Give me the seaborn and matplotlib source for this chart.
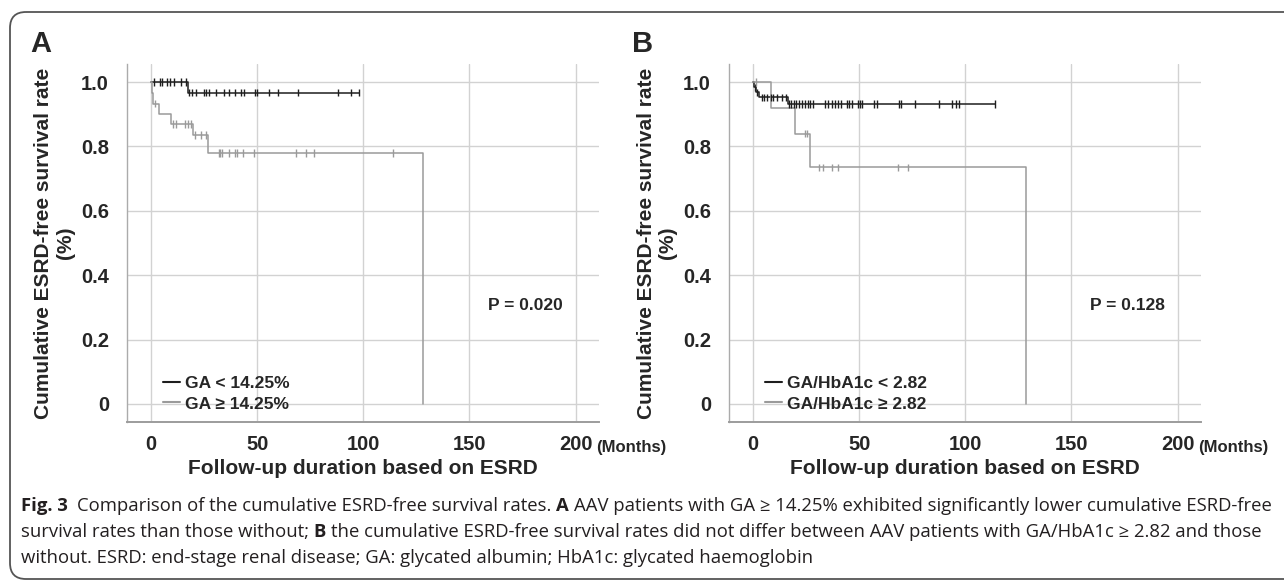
import numpy as np
import pandas as pd
import matplotlib
matplotlib.use("Agg")
import matplotlib.pyplot as plt
import seaborn as sns
from matplotlib.patches import FancyBboxPatch
from matplotlib.lines import Line2D

# ---------------- data ----------------
month_ticks = [0, 50, 100, 150, 200]
rate_ticks = [0, 0.2, 0.4, 0.6, 0.8, 1.0]
rate_labels = ["0", "0.2", "0.4", "0.6", "0.8", "1.0"]

# panel A
a_low_label = "GA < 14.25%"
a_low_event_t = [17.3]
a_low_event_s = [0.967]
a_low_censor = [1.6, 4.2, 5.4, 7.4, 9.0, 11.0, 14.2, 16.6, 17.8, 19.3, 21.2, 25.0,
                26.0, 27.4, 30.8, 34.3, 36.6, 39.5, 42.4, 43.9, 49.1, 50.0, 55.8,
                59.7, 69.3, 88.2, 94.3, 97.8]
a_low_end = 97.8

a_high_label = "GA ≥ 14.25%"
a_high_event_t = [0.3, 1.0, 3.8, 9.2, 20.0, 27.0, 128.2]
a_high_event_s = [0.967, 0.933, 0.900, 0.870, 0.835, 0.780, 0.0]
a_high_censor = [2.0, 10.4, 11.6, 16.2, 17.4, 18.8, 20.9, 23.5, 25.7, 31.8, 32.5,
                 33.3, 36.9, 39.6, 40.4, 43.3, 48.3, 68.3, 73.1, 76.9, 114.0]
a_high_end = 128.2
a_p_text = "P = 0.020"

# panel B
b_low_label = "GA/HbA1c < 2.82"
b_low_event_t = [0.3, 1.4, 3.0, 16.4]
b_low_event_s = [0.984, 0.968, 0.952, 0.932]
b_low_censor = [0.9, 1.9, 4.2, 5.4, 6.7, 8.3, 9.6, 11.2, 13.5, 15.4, 16.8, 17.7,
                19.3, 20.2, 21.6, 23.2, 24.5, 26.1, 27.0, 28.4, 33.8, 35.3, 37.1,
                38.6, 40.0, 41.5, 44.1, 45.4, 46.4, 49.3, 50.2, 51.2, 57.0, 58.5,
                68.6, 69.7, 76.3, 87.5, 93.7, 95.6, 97.2, 114.0]
b_low_end = 114.0

b_high_label = "GA/HbA1c ≥ 2.82"
b_high_event_t = [8.7, 19.8, 26.8, 128.6]
b_high_event_s = [0.92, 0.84, 0.735, 0.0]
b_high_censor = [1.5, 24.5, 25.6, 31.2, 32.8, 37.0, 40.1, 68.4, 73.1]
b_high_end = 128.6
b_p_text = "P = 0.128"

x_title = "Follow-up duration based on ESRD"
y_title = "Cumulative ESRD-free survival rate"
y_unit = "(%)"
x_unit = "(Months)"

caption_lines = [
    [(0, "Fig. 3", "bold"), (2, "Comparison of the cumulative ESRD-free survival rates.", "normal"),
     (1, "A", "bold"), (1, "AAV patients with GA ≥ 14.25% exhibited significantly lower cumulative ESRD-free", "normal")],
    [(0, "survival rates than those without;", "normal"), (1, "B", "bold"),
     (1, "the cumulative ESRD-free survival rates did not differ between AAV patients with GA/HbA1c ≥ 2.82 and those", "normal")],
    [(0, "without. ESRD: end-stage renal disease; GA: glycated albumin; HbA1c: glycated haemoglobin", "normal")],
]

# ---------------- style ----------------
sns.set_style("white")
plt.rcParams['font.family'] = ['Liberation Sans', 'DejaVu Sans']

W, H = 1284, 580
fig = plt.figure(figsize=(W / 100, H / 100), dpi=100)

# pixel-coordinate background axes for border and loose text
bg = fig.add_axes([0, 0, 1, 1], zorder=0)
bg.set_xlim(0, W)
bg.set_ylim(H, 0)
bg.axis('off')
bg.add_patch(FancyBboxPatch((10, 12), 1330, 567, boxstyle="round,pad=0,rounding_size=16",
                            fc='none', ec='#555555', lw=1.3))

BLACK = '#1e1e1e'
GRAY = '#9a9a9a'
AX_TOP, AX_BOT = 64, 422


def step_frame(groups):
    lines, marks = [], []
    for name, ev_t, ev_s, cens, end in groups:
        t = [0.0] + list(ev_t)
        s = [1.0] + list(ev_s)
        if end > t[-1]:
            t.append(end)
            s.append(s[-1])
        lines.append(pd.DataFrame({'t': t, 's': s, 'group': name}))
        tt = np.array([0.0] + list(ev_t))
        ss = np.array([1.0] + list(ev_s))
        idx = np.searchsorted(tt, np.array(cens), side='right') - 1
        marks.append(pd.DataFrame({'t': cens, 's': ss[idx], 'group': name}))
    return pd.concat(lines, ignore_index=True), pd.concat(marks, ignore_index=True)


def draw_panel(left_px, groups, p_text, letter, dx):
    ax = fig.add_axes([left_px / W, 1 - AX_BOT / H, 472 / W, (AX_BOT - AX_TOP) / H], zorder=1)
    ax.patch.set_alpha(0)
    names = [g[0] for g in groups]
    pal = {names[0]: BLACK, names[1]: GRAY}
    line_df, mark_df = step_frame(groups)
    sns.lineplot(data=line_df, x='t', y='s', hue='group', palette=pal, hue_order=names,
                 estimator=None, sort=False, drawstyle='steps-post', linewidth=1.1,
                 legend=False, ax=ax)
    sns.scatterplot(data=mark_df, x='t', y='s', hue='group', palette=pal, hue_order=names,
                    marker='|', s=28, linewidth=1.0, legend=False, ax=ax, zorder=3)
    ax.set_xlim(-11.3, 211.0)
    ax.set_ylim(-0.056, 1.056)
    ax.set_xticks(month_ticks)
    ax.set_xticklabels([str(m) for m in month_ticks])
    ax.set_yticks(rate_ticks)
    ax.set_yticklabels(rate_labels)
    ax.set_xlabel('')
    ax.set_ylabel('')
    ax.grid(True, color='#d2d2d2', lw=1)
    ax.set_axisbelow(True)
    for sp in ['top', 'right']:
        ax.spines[sp].set_visible(False)
    ax.spines['left'].set_color('#ababab')
    ax.spines['left'].set_linewidth(1.0)
    ax.spines['bottom'].set_color('#9c9c9c')
    ax.spines['bottom'].set_linewidth(1.4)
    ax.tick_params(axis='x', length=6, width=1, color='#a0a0a0', labelsize=14.5, pad=3.5)
    ax.tick_params(axis='y', length=5, width=1, color='#b0b0b0', labelsize=14.5, pad=8)
    for lab in ax.get_xticklabels() + ax.get_yticklabels():
        lab.set_fontweight('bold')

    handles = [Line2D([0], [0], color=pal[n], lw=1.5) for n in names]
    ax.legend(handles, names, loc='upper left', bbox_to_anchor=(36 / 472, 46 / 358),
              frameon=False, handlelength=1.0, handletextpad=0.25, labelspacing=0.3,
              borderpad=0, borderaxespad=0, prop={'weight': 'bold', 'size': 12.5})
    ax.text(158.5, 0.307, p_text, ha='left', va='center', fontsize=12.5, fontweight='bold')

    # labels drawn in pixel space
    cx = left_px + 236
    bg.text(cx, 469, x_title, ha='center', va='center', fontsize=15, fontweight='bold')
    bg.text(dx + 596, 452, x_unit, ha='left', va='baseline', fontsize=12, fontweight='bold')
    bg.text(dx + 44, 243, y_title, rotation=90, ha='center', va='center', fontsize=15, fontweight='bold')
    bg.text(dx + 66, 243, y_unit, rotation=90, ha='center', va='center', fontsize=15, fontweight='bold')
    bg.text(dx + 30, 44, letter, ha='left', va='center', fontsize=21, fontweight='bold')
    return ax


draw_panel(127,
           [(a_low_label, a_low_event_t, a_low_event_s, a_low_censor, a_low_end),
            (a_high_label, a_high_event_t, a_high_event_s, a_high_censor, a_high_end)],
           a_p_text, "A", 0)
draw_panel(729,
           [(b_low_label, b_low_event_t, b_low_event_s, b_low_censor, b_low_end),
            (b_high_label, b_high_event_t, b_high_event_s, b_high_censor, b_high_end)],
           b_p_text, "B", 602)

# ---------------- caption with mixed weights ----------------
renderer = fig.canvas.get_renderer()
CAP_FONT = ['Open Sans', 'DejaVu Sans']


def text_width(txt, size, weight):
    t = bg.text(0, 0, txt, fontsize=size, fontweight=weight, family=CAP_FONT)
    w = t.get_window_extent(renderer).width
    t.remove()
    return w


def line_width(segs, size):
    sp = text_width("x x", size, 'normal') - text_width("xx", size, 'normal')
    return sum(g * sp + text_width(txt, size, wt) for g, txt, wt in segs), sp


base = 10.0
w0, _ = line_width(caption_lines[0], base)
cap_size = base * 1252 / w0
cap_y = [506, 532, 558]
for segs, y in zip(caption_lines, cap_y):
    _, sp = line_width(segs, cap_size)
    x = 21
    for gap, txt, wt in segs:
        x += gap * sp
        t = bg.text(x, y, txt, ha='left', va='center', fontsize=cap_size, fontweight=wt,
                    family=CAP_FONT, color='#231f20')
        x += t.get_window_extent(renderer).width

fig.savefig("out.png", dpi=100)
